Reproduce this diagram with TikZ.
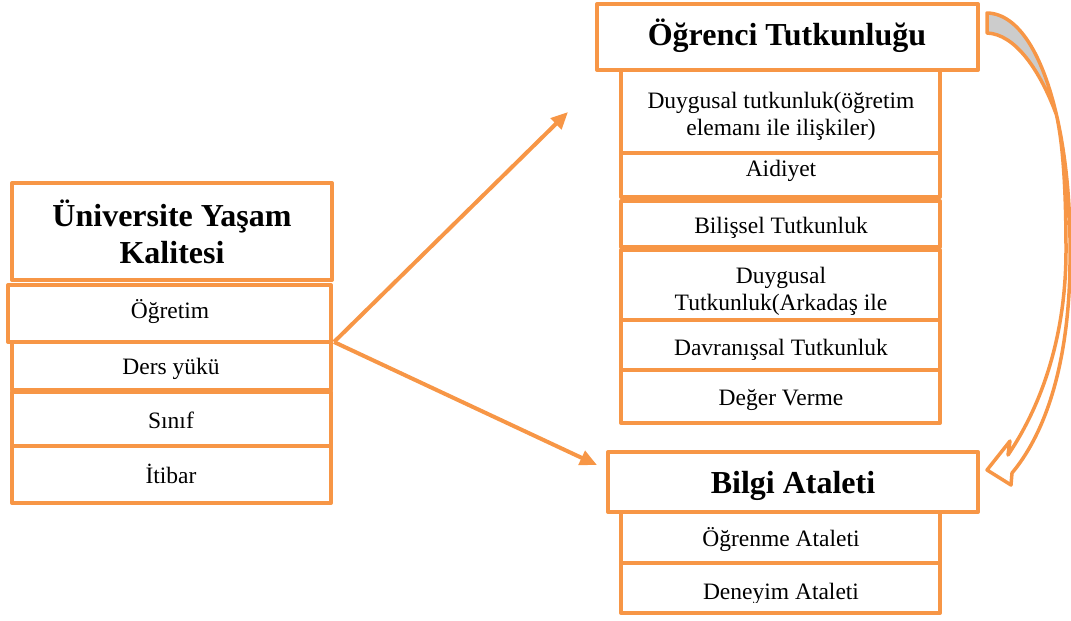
\documentclass[tikz,border=0pt]{standalone}
\usepackage{fontspec}
\setmainfont{Liberation Serif}
\usetikzlibrary{arrows.meta}
\definecolor{org}{HTML}{F79646}
\definecolor{gry}{HTML}{CCCCCC}
\begin{document}
\begin{tikzpicture}[x=1pt,y=-1pt,
  bx/.style={draw=org, line width=4pt, fill=white, inner sep=0pt, line join=round},
  tx/.style={anchor=base, font=\fontsize{23.5}{28}\selectfont, inner sep=0pt, align=center},
  hd/.style={anchor=base, font=\fontsize{32}{37}\selectfont\bfseries, inner sep=0pt, align=center},
  conn/.style={draw=org, line width=4pt, -{Triangle[length=17pt,width=15pt]}},
  bigarrow/.style={draw=org, line width=3.5pt, line join=round}]
\useasboundingbox (0,0) rectangle (1071,621);

% left block
\node[bx, minimum width=320pt, minimum height=97pt] (L0) at (172,231.5) {};
\node[bx, minimum width=319pt, minimum height=48pt] (L2) at (171.5,366) {};
\node[bx, minimum width=319pt, minimum height=54pt] (L3) at (171.5,419) {};
\node[bx, minimum width=319pt, minimum height=57pt] (L4) at (171.5,474.5) {};
\node[bx, minimum width=323pt, minimum height=57pt] (L1) at (169.5,313.5) {};
\node[hd] (L0a) at (172,226) {Üniversite Yaşam};
\node[hd] (L0b) at (172,263) {Kalitesi};
\node[tx] (L1t) at (170,318) {Öğretim};
\node[tx] (L2t) at (171,374) {Ders yükü};
\node[tx] (L3t) at (171,428) {Sınıf};
\node[tx] (L4t) at (171,483) {İtibar};

% right upper block
\node[bx, minimum width=319pt, minimum height=83pt] (R1) at (780.5,111.5) {};
\node[bx, minimum width=319pt, minimum height=44pt] (R2) at (780.5,175) {};
\node[bx, minimum width=319pt, minimum height=46pt] (R3) at (780.5,224) {};
\node[bx, minimum width=319pt, minimum height=70pt] (R4) at (780.5,285) {};
\node[bx, minimum width=319pt, minimum height=50pt] (R5) at (780.5,345) {};
\node[bx, minimum width=319pt, minimum height=53pt] (R6) at (780.5,396.5) {};
\node[bx, minimum width=381pt, minimum height=66pt] (R0) at (787.5,37) {};
\node[hd] (R0t) at (787,45) {Öğrenci Tutkunluğu};
\node[tx] (R1a) at (781,108) {Duygusal tutkunluk(öğretim};
\node[tx] (R1b) at (781,135) {elemanı ile ilişkiler)};
\node[tx] (R2t) at (781,176) {Aidiyet};
\node[tx] (R3t) at (781,233) {Bilişsel Tutkunluk};
\node[tx] (R4a) at (781,283) {Duygusal};
\node[tx] (R4b) at (781,310) {Tutkunluk(Arkadaş ile};
\node[tx] (R5t) at (781,355) {Davranışsal Tutkunluk};
\node[tx] (R6t) at (781,405) {Değer Verme};

% right lower block
\node[bx, minimum width=319pt, minimum height=51pt] (B1) at (780.5,537.5) {};
\node[bx, minimum width=319pt, minimum height=50pt] (B2) at (780.5,588) {};
\node[bx, minimum width=370pt, minimum height=60pt] (B0) at (793,482) {};
\node[hd] (B0t) at (793,493) {Bilgi Ataleti};
\node[tx] (B1t) at (781,546) {Öğrenme Ataleti};
\begin{scope}
  \clip (623,565) rectangle (938,602.5);
  \node[tx] (B2t) at (781,599) {Deneyim Ataleti};
\end{scope}

% straight connectors
\coordinate (up) at (568,112);
\coordinate (dn) at (597,465);
\draw[conn] (L1.south east) ++(1,-2) coordinate (st) -- (up);
\draw[conn] (st) -- (dn);

% curved block arrow
\path[fill=white] (987,13) .. controls (1018.8,13.6) and (1042.7,55.6) .. (1056.5,115)
  .. controls (1065.7,154.6) and (1070.4,202) .. (1070,250)
  .. controls (1071,345) and (1052,425) .. (1012,473) -- (1011,485) -- (987,470) -- (1010,441) -- (1008,455)
  .. controls (1045,400) and (1066,330) .. (1066,250)
  .. controls (1066,180) and (1062,140) .. (1056.5,115)
  .. controls (1040,70) and (1015,34) .. (987,33) -- cycle;
\path[fill=gry] (987,13) .. controls (1018.8,13.6) and (1042.7,55.6) .. (1056.5,115)
  .. controls (1040,70) and (1015,34) .. (987,33) -- cycle;
\draw[bigarrow] (987,13) .. controls (1018.8,13.6) and (1042.7,55.6) .. (1056.5,115)
  .. controls (1065.7,154.6) and (1070.4,202) .. (1070,250)
  .. controls (1071,345) and (1052,425) .. (1012,473) -- (1011,485) -- (987,470) -- (1010,441) -- (1008,455)
  .. controls (1045,400) and (1066,330) .. (1066,250)
  .. controls (1066,180) and (1062,140) .. (1056.5,115)
  .. controls (1040,70) and (1015,34) .. (987,33) -- cycle;
\end{tikzpicture}
\end{document}
